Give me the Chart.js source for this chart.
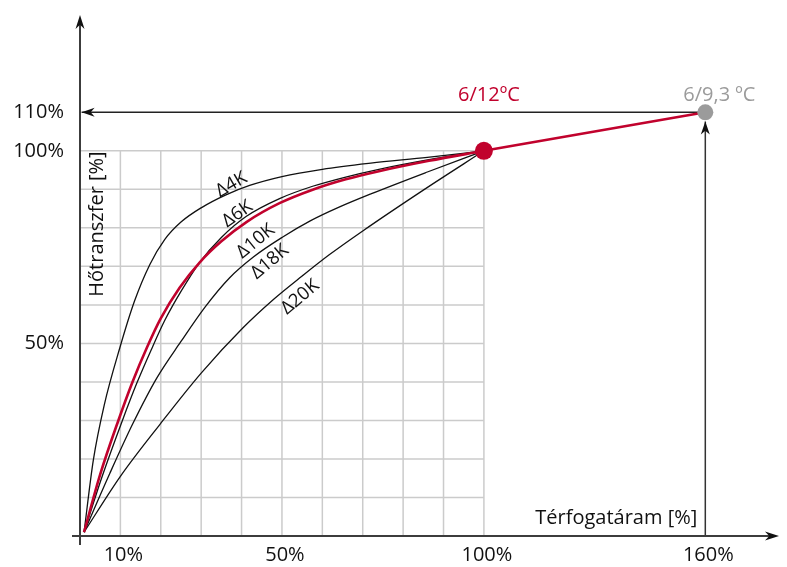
<!DOCTYPE html>
<html>
<head>
<meta charset="utf-8">
<script src="https://cdn.jsdelivr.net/npm/chart.js@4.4.1/dist/chart.umd.min.js"></script>
<style>
  html, body { margin: 0; padding: 0; background: #fff; }
  #wrap { width: 787px; height: 567px; }
</style>
</head>
<body>
<div id="wrap"><canvas id="chart" width="787" height="567"></canvas></div>
<script>
// ===========================
// Data
// ===========================
const X_TICKS = [10, 50, 100, 160];
const Y_TICKS = [50, 100, 110];
const GRID_STEPS = [10, 20, 30, 40, 50, 60, 70, 80, 90, 100];

// heat transfer curves (flow % -> heat transfer %)
const D4K_X = [1, 3.3, 6, 9.9, 13.5, 17.3, 21, 25, 30, 36, 42, 50, 60, 72, 86, 100];
const D4K_Y = [1, 19.7, 34, 49, 61, 70.5, 77, 81.5, 85.2, 88.5, 91, 93.3, 95.2, 96.8, 98.3, 100];

const D6K_X = [1, 5.5, 10.5, 14, 17.7, 21, 25, 29.6, 35, 41.2, 49.4, 57.6, 65.8, 74, 86.4, 100];
const D6K_Y = [1, 15.5, 30, 39.5, 48.5, 56, 63.5, 71, 77.5, 83, 87.6, 90.8, 93.2, 95.2, 97.7, 100];

const RED_X = [1, 5, 9.5, 13, 16.6, 20, 24.7, 29.6, 35, 41.2, 49.4, 57.6, 65.8, 74, 86.4, 100];
const RED_Y = [1, 16, 30, 40, 49, 56.5, 64.5, 71, 76.5, 81.5, 86.4, 89.9, 92.6, 94.7, 97.4, 100];

const D10K_X = [1, 7.4, 13, 19, 25, 31, 37, 43, 50, 57, 64, 72, 86, 100];
const D10K_Y = [1, 16.3, 29, 41, 50.5, 59.5, 67, 72.5, 77.5, 81.8, 85.3, 88.8, 94.5, 100];

const D20K_X = [1, 10, 19.8, 30, 40.3, 48.1, 55, 61.7, 70, 85, 100];
const D20K_Y = [1, 15.5, 29, 42.3, 54, 61.6, 67.5, 73, 79.2, 89.8, 100];

// operating points: 6/12 °C and 6/9,3 °C
const OP_X = [100, 160];
const OP_Y = [100, 110];

// guide arrows
const GUIDE_H_X = [160, 0.4];
const GUIDE_H_Y = [110, 110];
const GUIDE_V_X = [160, 160];
const GUIDE_V_Y = [0, 107.6];

const CURVE_LABELS = ['Δ4K', 'Δ6K', 'Δ10K', 'Δ18K', 'Δ20K'];
const CURVE_LABEL_X = [37.5, 39, 43.5, 47, 54.5];
const CURVE_LABEL_Y = [91.2, 83.6, 76.5, 71.2, 62];
const CURVE_LABEL_ANGLE = [-30, -35, -39, -40, -40];

const RED = '#c1022d';
const GREY = '#9b9b9b';
const FONT = "'Open Sans', sans-serif";

const zip = (xs, ys) => xs.map((x, i) => ({ x: x, y: ys[i] }));

// ===========================
// Flow axis: squeezed after 100%
// ===========================
const BREAK_AT = 100;
const SQUEEZE = 0.9136;

class WarpedLinearScale extends Chart.LinearScale {
  warp(v) { return v <= BREAK_AT ? v : BREAK_AT + (v - BREAK_AT) * SQUEEZE; }
  unwarp(u) { return u <= BREAK_AT ? u : BREAK_AT + (u - BREAK_AT) / SQUEEZE; }
  getPixelForValue(value) {
    const lo = this.warp(this.min), hi = this.warp(this.max);
    return this.getPixelForDecimal((this.warp(value) - lo) / (hi - lo));
  }
  getValueForPixel(pixel) {
    const lo = this.warp(this.min), hi = this.warp(this.max);
    return this.unwarp(lo + this.getDecimalForPixel(pixel) * (hi - lo));
  }
}
WarpedLinearScale.id = 'warpedLinear';
WarpedLinearScale.defaults = Chart.LinearScale.defaults;
Chart.register(WarpedLinearScale);

// ===========================
// Drawing helpers
// ===========================
function arrowHead(ctx, tipX, tipY, dirX, dirY, len, half) {
  const bx = tipX - dirX * len, by = tipY - dirY * len;
  const nx = -dirY, ny = dirX;
  const notchX = tipX - dirX * len * 0.7, notchY = tipY - dirY * len * 0.7;
  ctx.beginPath();
  ctx.moveTo(tipX, tipY);
  ctx.lineTo(bx + nx * half, by + ny * half);
  ctx.lineTo(notchX, notchY);
  ctx.lineTo(bx - nx * half, by - ny * half);
  ctx.closePath();
  ctx.fill();
}

const gridPlugin = {
  id: 'gridPlugin',
  beforeDatasetsDraw(chart) {
    const { ctx, scales: { x, y } } = chart;
    ctx.save();
    ctx.strokeStyle = '#cbcbcb';
    ctx.lineWidth = 1.5;
    GRID_STEPS.forEach(v => {
      ctx.beginPath();
      ctx.moveTo(x.getPixelForValue(v), y.getPixelForValue(0));
      ctx.lineTo(x.getPixelForValue(v), y.getPixelForValue(100));
      ctx.stroke();
      ctx.beginPath();
      ctx.moveTo(x.getPixelForValue(0), y.getPixelForValue(v));
      ctx.lineTo(x.getPixelForValue(100), y.getPixelForValue(v));
      ctx.stroke();
    });
    ctx.restore();
  }
};

const decorPlugin = {
  id: 'decorPlugin',
  afterDatasetsDraw(chart) {
    const { ctx, chartArea: area, scales: { x, y } } = chart;
    const x0 = x.getPixelForValue(0), y0 = y.getPixelForValue(0);
    ctx.save();

    // axes with arrows
    ctx.strokeStyle = '#3c3c3c';
    ctx.fillStyle = '#111';
    ctx.lineWidth = 2;
    ctx.beginPath();
    ctx.moveTo(x0, y0 + 9);
    ctx.lineTo(x0, area.top + 4);
    ctx.stroke();
    ctx.beginPath();
    ctx.moveTo(x0 - 8, y0);
    ctx.lineTo(area.right - 4, y0);
    ctx.stroke();
    arrowHead(ctx, x0, area.top - 1, 0, -1, 14, 4.5);
    arrowHead(ctx, area.right + 1, y0, 1, 0, 14, 4.5);

    // guide arrow heads
    arrowHead(ctx, x.getPixelForValue(GUIDE_H_X[1]), y.getPixelForValue(GUIDE_H_Y[1]), -1, 0, 13, 4.5);
    arrowHead(ctx, x.getPixelForValue(GUIDE_V_X[1]), y.getPixelForValue(GUIDE_V_Y[1]), 0, -1, 13, 4.5);

    // axis titles
    ctx.font = `20px ${FONT}`;
    ctx.fillStyle = '#111';
    ctx.textAlign = 'right';
    ctx.textBaseline = 'middle';
    ctx.fillText('Térfogatáram [%]', x.getPixelForValue(160) - 8, y.getPixelForValue(4.7));

    ctx.save();
    ctx.translate(x.getPixelForValue(4.2), y.getPixelForValue(81));
    ctx.rotate(-Math.PI / 2);
    ctx.textAlign = 'center';
    ctx.fillText('Hőtranszfer [%]', 0, 0);
    ctx.restore();

    // operating point labels
    ctx.textAlign = 'center';
    ctx.textBaseline = 'alphabetic';
    ctx.fillStyle = RED;
    ctx.fillText('6/12ºC', x.getPixelForValue(OP_X[0]) + 5, y.getPixelForValue(OP_Y[1]) - 11);
    ctx.fillStyle = GREY;
    ctx.fillText('6/9,3 ºC', x.getPixelForValue(OP_X[1]) + 14, y.getPixelForValue(OP_Y[1]) - 11);

    // curve labels
    ctx.fillStyle = '#111';
    ctx.font = `18.5px ${FONT}`;
    ctx.textBaseline = 'middle';
    CURVE_LABELS.forEach((t, i) => {
      ctx.save();
      ctx.translate(x.getPixelForValue(CURVE_LABEL_X[i]), y.getPixelForValue(CURVE_LABEL_Y[i]));
      ctx.rotate(CURVE_LABEL_ANGLE[i] * Math.PI / 180);
      ctx.fillText(t, 0, 0);
      ctx.restore();
    });

    ctx.restore();
  }
};

// ===========================
// Chart
// ===========================
const curve = (label, xs, ys, color, width, order) => ({
  label: label,
  data: zip(xs, ys),
  borderColor: color,
  borderWidth: width,
  pointRadius: 0,
  fill: false,
  cubicInterpolationMode: 'monotone',
  order: order
});

const ctx = document.getElementById('chart').getContext('2d');
const chart = new Chart(ctx, {
  type: 'line',
  data: {
    datasets: [
      {
        label: 'Munkapont',
        data: zip(OP_X, OP_Y),
        borderColor: RED,
        borderWidth: 2.5,
        pointRadius: [9, 8],
        pointBackgroundColor: [RED, GREY],
        pointBorderWidth: 0,
        tension: 0,
        order: 0
      },
      curve('6/12ºC', RED_X, RED_Y, RED, 2.6, 1),
      curve('Δ4K', D4K_X, D4K_Y, '#111', 1.3, 2),
      curve('Δ6K', D6K_X, D6K_Y, '#111', 1.3, 2),
      curve('Δ10K', D10K_X, D10K_Y, '#111', 1.3, 2),
      curve('Δ20K', D20K_X, D20K_Y, '#111', 1.3, 2),
      { label: '110%', data: zip(GUIDE_H_X, GUIDE_H_Y), borderColor: '#222', borderWidth: 1.5, pointRadius: 0, tension: 0, order: 3 },
      { label: '160%', data: zip(GUIDE_V_X, GUIDE_V_Y), borderColor: '#333', borderWidth: 1.5, pointRadius: 0, tension: 0, order: 3 }
    ]
  },
  options: {
    responsive: false,
    animation: false,
    events: [],
    layout: { padding: { left: 0, right: 7, top: 16, bottom: 0 } },
    scales: {
      x: {
        type: 'warpedLinear',
        min: 0,
        max: 179.7,
        grid: { display: false },
        border: { display: false },
        afterBuildTicks: s => { s.ticks = X_TICKS.map(v => ({ value: v })); },
        afterFit: s => { s.height = 31; s.paddingLeft = 0; s.paddingRight = 0; },
        ticks: {
          autoSkip: false,
          maxRotation: 0,
          padding: -1,
          labelOffset: 3,
          color: '#111',
          font: { family: FONT, size: 20 },
          callback: v => v + '%'
        }
      },
      y: {
        type: 'linear',
        min: 0,
        max: 135,
        grid: { display: false },
        border: { display: false },
        afterBuildTicks: s => { s.ticks = Y_TICKS.map(v => ({ value: v })); },
        afterFit: s => { s.width = 80; s.paddingTop = 0; s.paddingBottom = 0; },
        ticks: {
          autoSkip: false,
          padding: 8,
          color: '#111',
          font: { family: FONT, size: 20 },
          callback: v => v + '%'
        }
      }
    },
    plugins: {
      legend: { display: false },
      tooltip: { enabled: false }
    }
  },
  plugins: [gridPlugin, decorPlugin]
});
</script>
</body>
</html>
